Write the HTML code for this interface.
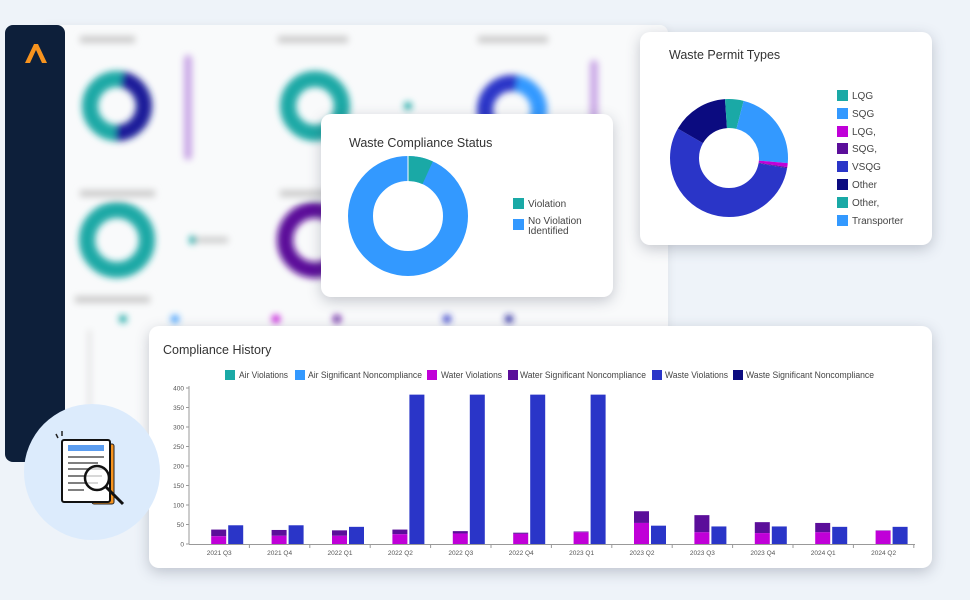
<!DOCTYPE html>
<html><head><meta charset="utf-8"><style>
*{margin:0;padding:0;box-sizing:border-box}
body{width:970px;height:600px;background:#eef3f9;position:relative;overflow:hidden;font-family:"Liberation Sans",sans-serif}
.abs{position:absolute}
.card{position:absolute;background:#fff;border-radius:10px;box-shadow:0 4px 14px rgba(60,70,90,.28);overflow:hidden}
svg text{font-family:"Liberation Sans",sans-serif}
</style></head><body>
<div class="abs" style="left:40px;top:25px;width:628px;height:440px;background:#f9fafb;border-radius:8px;box-shadow:0 2px 10px rgba(0,0,0,.08)"></div>
<svg class="abs" style="left:0;top:0" width="970" height="600">
<defs><filter id="b"><feGaussianBlur stdDeviation="3.5"/></filter></defs>
<g filter="url(#b)">
<rect x="80" y="36" width="55" height="7" fill="#ccc"/><rect x="278" y="36" width="70" height="7" fill="#ccc"/><rect x="478" y="36" width="70" height="7" fill="#ccc"/>
<circle cx="117" cy="106" r="27" fill="none" stroke="#1aa9a6" stroke-width="16"/>
<circle cx="117" cy="106" r="27" fill="none" stroke="#1e1a9a" stroke-width="16" pathLength="100" stroke-dasharray="48 100" transform="rotate(-80 117 106)"/>
<rect x="184" y="55" width="8" height="105" rx="4" fill="#c9a6e6"/>
<circle cx="315" cy="106" r="27" fill="none" stroke="#1aa9a6" stroke-width="16"/>
<circle cx="408" cy="106" r="4" fill="#1aa9a6"/>
<circle cx="512" cy="110" r="27" fill="none" stroke="#2a35c8" stroke-width="16"/>
<circle cx="512" cy="110" r="27" fill="none" stroke="#3399ff" stroke-width="16" pathLength="100" stroke-dasharray="30 100" transform="rotate(-80 512 110)"/>
<rect x="590" y="60" width="8" height="80" rx="4" fill="#c9a6e6"/>
<rect x="80" y="190" width="75" height="7" fill="#ccc"/><rect x="280" y="190" width="60" height="7" fill="#ccc"/>
<circle cx="117" cy="240" r="30" fill="none" stroke="#1aa9a6" stroke-width="16"/>
<circle cx="193" cy="240" r="4" fill="#1aa9a6"/><rect x="198" y="237" width="30" height="6" fill="#ccc"/>
<circle cx="315" cy="240" r="30" fill="none" stroke="#5b0e9a" stroke-width="16"/>
<rect x="75" y="296" width="75" height="7" fill="#ccc"/>
<circle cx="123" cy="319" r="4" fill="#1aa9a6"/><circle cx="175" cy="319" r="4" fill="#3399ff"/><circle cx="276" cy="319" r="4" fill="#c000d8"/><circle cx="337" cy="319" r="4" fill="#5b0e9a"/><circle cx="447" cy="319" r="4" fill="#2a35c8"/><circle cx="509" cy="319" r="4" fill="#1e1a9a"/>
<rect x="88" y="330" width="3" height="120" fill="#ddd"/>
</g>
</svg>
<div class="abs" style="left:5px;top:25px;width:60px;height:437px;background:#0d1f3a;border-radius:8px"></div>
<svg class="abs" style="left:22px;top:40px" width="28" height="26"><path d="M3 23 L12 4 L16 4 L25 23 L20 23 L14 10 L8 23Z" fill="#f7931e"/></svg>

<div class="card" style="left:321px;top:114px;width:292px;height:183px">
<svg width="292" height="183"><g transform="translate(-321,-114)">
<text x="349" y="147" font-size="12.5" fill="#333">Waste Compliance Status</text>
<circle cx="408" cy="216" r="47.5" fill="none" stroke="#3399ff" stroke-width="25"/>
<circle cx="408" cy="216" r="47.5" fill="none" stroke="#1aa9a6" stroke-width="25" pathLength="100" stroke-dasharray="6.8 100" transform="rotate(-90 408 216)"/>
<line x1="408" y1="216" x2="408" y2="156" stroke="#fff" stroke-width="1"/>
<rect x="513" y="198" width="11" height="11" fill="#1aa9a6"/><text x="528" y="207" font-size="10" fill="#444">Violation</text>
<rect x="513" y="219" width="11" height="11" fill="#3399ff"/><text x="528" y="224" font-size="10" fill="#444">No Violation</text><text x="528" y="234" font-size="10" fill="#444">Identified</text>
</g></svg></div>

<div class="card" style="left:640px;top:32px;width:292px;height:213px">
<svg width="292" height="213"><g transform="translate(-640,-32)">
<text x="669" y="59" font-size="12.5" fill="#333">Waste Permit Types</text>
<g transform="rotate(-90 729 158)" fill="none" stroke-width="29">
<circle cx="729" cy="158" r="44.5" stroke="#1aa9a6" pathLength="100" stroke-dasharray="4 96"/>
<circle cx="729" cy="158" r="44.5" stroke="#3399ff" pathLength="100" stroke-dasharray="0 4 22.4 100"/>
<circle cx="729" cy="158" r="44.5" stroke="#c000d8" pathLength="100" stroke-dasharray="0 26.4 1.1 100"/>
<circle cx="729" cy="158" r="44.5" stroke="#5b0e9a" pathLength="100" stroke-dasharray="0 27.5 0.3 100"/>
<circle cx="729" cy="158" r="44.5" stroke="#2a35c8" pathLength="100" stroke-dasharray="0 27.8 55.5 100"/>
<circle cx="729" cy="158" r="44.5" stroke="#0b0b80" pathLength="100" stroke-dasharray="0 83.3 15.6 100"/>
<circle cx="729" cy="158" r="44.5" stroke="#1aa9a6" pathLength="100" stroke-dasharray="0 98.9 1.1 100"/>
</g>
<g font-size="10" fill="#444">
<rect x="837" y="90" width="11" height="11" fill="#1aa9a6"/><text x="852" y="99">LQG</text>
<rect x="837" y="108" width="11" height="11" fill="#3399ff"/><text x="852" y="117">SQG</text>
<rect x="837" y="126" width="11" height="11" fill="#c000d8"/><text x="852" y="135">LQG,</text>
<rect x="837" y="143" width="11" height="11" fill="#5b0e9a"/><text x="852" y="152">SQG,</text>
<rect x="837" y="161" width="11" height="11" fill="#2a35c8"/><text x="852" y="170">VSQG</text>
<rect x="837" y="179" width="11" height="11" fill="#0b0b80"/><text x="852" y="188">Other</text>
<rect x="837" y="197" width="11" height="11" fill="#1aa9a6"/><text x="852" y="206">Other,</text>
<rect x="837" y="215" width="11" height="11" fill="#3399ff"/><text x="852" y="224">Transporter</text>
</g>
</g></svg></div>

<div class="card" style="left:149px;top:326px;width:783px;height:242px">
<svg width="783" height="242"><g id="h" transform="translate(-149,-326)">
<text x="163" y="354" font-size="12.5" fill="#333">Compliance History</text>
<g font-size="9" fill="#444">
<rect x="225" y="370" width="10" height="10" fill="#1aa9a6"/><text x="239" y="378" textLength="49" lengthAdjust="spacingAndGlyphs">Air Violations</text>
<rect x="295" y="370" width="10" height="10" fill="#3399ff"/><text x="308" y="378" textLength="114" lengthAdjust="spacingAndGlyphs">Air Significant Noncompliance</text>
<rect x="427" y="370" width="10" height="10" fill="#c000d8"/><text x="441" y="378" textLength="61" lengthAdjust="spacingAndGlyphs">Water Violations</text>
<rect x="508" y="370" width="10" height="10" fill="#5b0e9a"/><text x="520" y="378" textLength="126" lengthAdjust="spacingAndGlyphs">Water Significant Noncompliance</text>
<rect x="652" y="370" width="10" height="10" fill="#2a35c8"/><text x="665" y="378" textLength="63" lengthAdjust="spacingAndGlyphs">Waste Violations</text>
<rect x="733" y="370" width="10" height="10" fill="#0b0b80"/><text x="746" y="378" textLength="128" lengthAdjust="spacingAndGlyphs">Waste Significant Noncompliance</text>
</g>
<line x1="189" y1="386" x2="189" y2="544" stroke="#999" stroke-width="1"/>
<line x1="189" y1="544.5" x2="915" y2="544.5" stroke="#999" stroke-width="1"/>
</g></svg></div>

<div class="abs" style="left:24px;top:404px;width:136px;height:136px;border-radius:50%;background:#dcebfc"></div>
<svg class="abs" style="left:48px;top:428px" width="90" height="90">
<path d="M8 6 L10 10 M14 3 L14 8" stroke="#222" stroke-width="1.5"/>
<rect x="44" y="16" width="22" height="60" rx="2" fill="#f7931e" stroke="#222" stroke-width="1"/>
<rect x="14" y="12" width="48" height="62" rx="2" fill="#fff" stroke="#111" stroke-width="2"/>
<rect x="20" y="17" width="36" height="6" fill="#5b9df0"/>
<g stroke="#555" stroke-width="1.5"><line x1="20" y1="29" x2="56" y2="29"/><line x1="20" y1="35" x2="50" y2="35"/><line x1="20" y1="41" x2="56" y2="41"/><line x1="20" y1="48" x2="54" y2="48"/><line x1="20" y1="55" x2="50" y2="55"/><line x1="20" y1="62" x2="36" y2="62"/></g>
<circle cx="49" cy="50" r="12" fill="rgba(255,255,255,.7)" stroke="#111" stroke-width="2.5"/>
<line x1="58" y1="59" x2="75" y2="76" stroke="#111" stroke-width="3"/>
</svg>
<script>
var g=document.getElementById('h'),ns='http://www.w3.org/2000/svg';
function el(t,a,txt){var e=document.createElementNS(ns,t);for(var k in a)e.setAttribute(k,a[k]);if(txt)e.textContent=txt;g.appendChild(e);return e}
for(var v=0;v<=400;v+=50){var y=544-v*0.39;el('line',{x1:186,y1:y,x2:189,y2:y,stroke:'#999'});el('text',{x:184,y:y+2.5,'font-size':6.5,fill:'#555','text-anchor':'end'},String(v))}
var labs=['2021 Q3','2021 Q4','2022 Q1','2022 Q2','2022 Q3','2022 Q4','2023 Q1','2023 Q2','2023 Q3','2023 Q4','2024 Q1','2024 Q2'];
var d=[[20,37,48],[21,36,48],[21,35,44],[25,37,383],[27,33,383],[26,29,383],[30,32,383],[54,84,47],[30,74,45],[28,56,45],[30,54,44],[34,35,44]];
for(var i=0;i<12;i++){var c=219.2+60.4*i;
el('line',{x1:c+30.2,y1:544,x2:c+30.2,y2:548,stroke:'#999'});
el('text',{x:c,y:555,'font-size':6.5,fill:'#555','text-anchor':'middle'},labs[i]);
var a=d[i][0]*0.39,b=d[i][1]*0.39,w=d[i][2]*0.39;
el('rect',{x:c-8,y:544-b,width:15,height:b-a,fill:'#5b0e9a'});
el('rect',{x:c-8,y:544-a,width:15,height:a,fill:'#c000d8'});
el('rect',{x:c+9,y:544-w,width:15,height:w,fill:'#2a35c8'});
}
</script>
</body></html>
